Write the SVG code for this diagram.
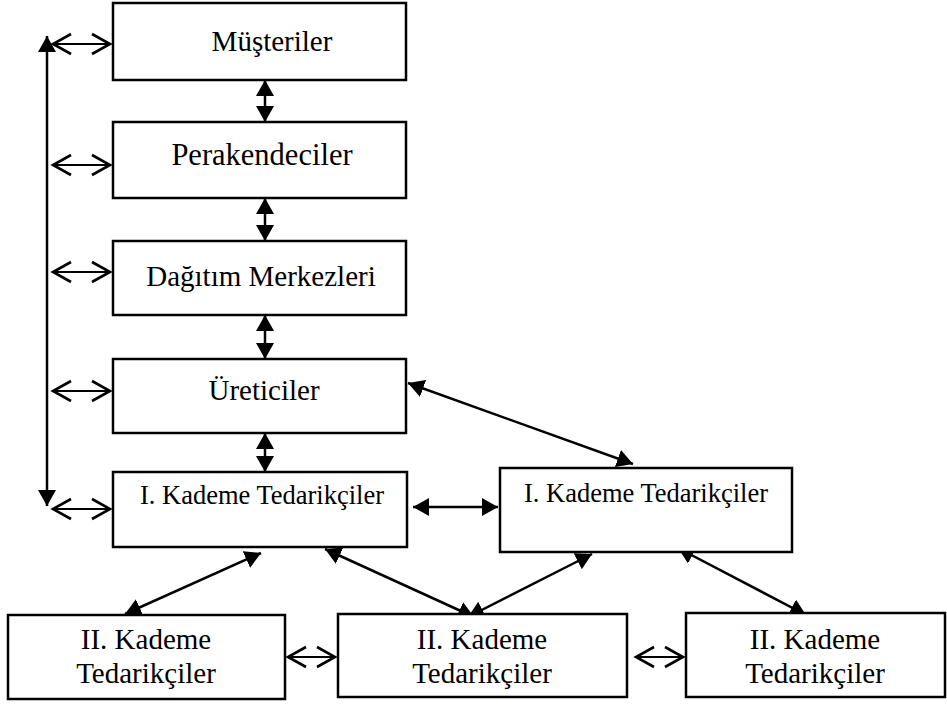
<svg xmlns="http://www.w3.org/2000/svg" width="947" height="704" viewBox="0 0 947 704">
<style>
.box{fill:#fff;stroke:#000;stroke-width:2.5}
.t{font-family:"Liberation Serif","Times New Roman",serif;font-size:29px;fill:#000;text-anchor:middle}
.s{font-size:26.5px}
.p{font-size:30.5px}
.f{stroke:#000;stroke-width:2.5;fill:none;marker-start:url(#tri);marker-end:url(#tri)}
.o{stroke:#000;stroke-width:2.2;fill:none;marker-start:url(#chev);marker-end:url(#chev)}
</style>
<defs>
<marker id="tri" markerUnits="userSpaceOnUse" markerWidth="17" markerHeight="19" refX="16" refY="9" orient="auto-start-reverse" viewBox="0 0 17 19">
<path d="M0,0 L16,9 L0,18 z" fill="#000"/>
</marker>
<marker id="chev" markerUnits="userSpaceOnUse" markerWidth="24" markerHeight="26" refX="20" refY="12" orient="auto-start-reverse" viewBox="0 0 24 26">
<path d="M2,2 L20,12 L2,22" fill="none" stroke="#000" stroke-width="2.6"/>
</marker>
</defs>
<rect width="947" height="704" fill="#fff"/>
<g id="connectors">
<line class="f" x1="47" y1="36" x2="47" y2="506"/>
<line class="o" x1="53" y1="44" x2="110" y2="44"/>
<line class="o" x1="53" y1="165" x2="110" y2="165"/>
<line class="o" x1="53" y1="272" x2="110" y2="272"/>
<line class="o" x1="53" y1="391" x2="110" y2="391"/>
<line class="o" x1="53" y1="509" x2="110" y2="509"/>
<line class="f" x1="265" y1="80" x2="265" y2="122"/>
<line class="f" x1="265" y1="198" x2="265" y2="241"/>
<line class="f" x1="265" y1="315" x2="265" y2="359"/>
<line class="f" x1="265" y1="433" x2="265" y2="472"/>
<line class="f" x1="408" y1="383" x2="633" y2="464"/>
<line class="f" x1="413" y1="507" x2="498" y2="507"/>
<line class="f" x1="261" y1="553" x2="125" y2="614"/>
<line class="f" x1="325" y1="549" x2="474" y2="617"/>
<line class="f" x1="592" y1="554" x2="468" y2="617"/>
<line class="f" x1="678" y1="548" x2="806" y2="615"/>
<line class="o" x1="288" y1="657" x2="335" y2="657"/>
<line class="o" x1="636" y1="657" x2="683" y2="657"/>
</g>
<g id="musteriler"><rect class="box" x="113" y="3" width="293" height="77"/><text class="t" x="272" y="51">Müşteriler</text></g>
<g id="perakendeciler"><rect class="box" x="113" y="122" width="293" height="76"/><text class="t p" x="262" y="165">Perakendeciler</text></g>
<g id="dagitim"><rect class="box" x="113" y="241" width="293" height="74"/><text class="t" x="261" y="286">Dağıtım Merkezleri</text></g>
<g id="ureticiler"><rect class="box" x="113" y="359" width="293" height="74"/><text class="t" x="264" y="400">Üreticiler</text></g>
<g id="tedarikci1a"><rect class="box" x="113" y="472" width="294" height="75"/><text class="t s" x="262" y="504">I. Kademe Tedarikçiler</text></g>
<g id="tedarikci1b"><rect class="box" x="500" y="468" width="292" height="84"/><text class="t s" x="646" y="502">I. Kademe Tedarikçiler</text></g>
<g id="tedarikci2a"><rect class="box" x="8" y="615" width="277" height="84"/><text class="t" x="146" y="649">II. Kademe</text><text class="t" x="146" y="683">Tedarikçiler</text></g>
<g id="tedarikci2b"><rect class="box" x="338" y="614" width="289" height="83"/><text class="t" x="482" y="649">II. Kademe</text><text class="t" x="482" y="683">Tedarikçiler</text></g>
<g id="tedarikci2c"><rect class="box" x="686" y="613" width="259" height="84"/><text class="t" x="815" y="649">II. Kademe</text><text class="t" x="815" y="683">Tedarikçiler</text></g>
</svg>
